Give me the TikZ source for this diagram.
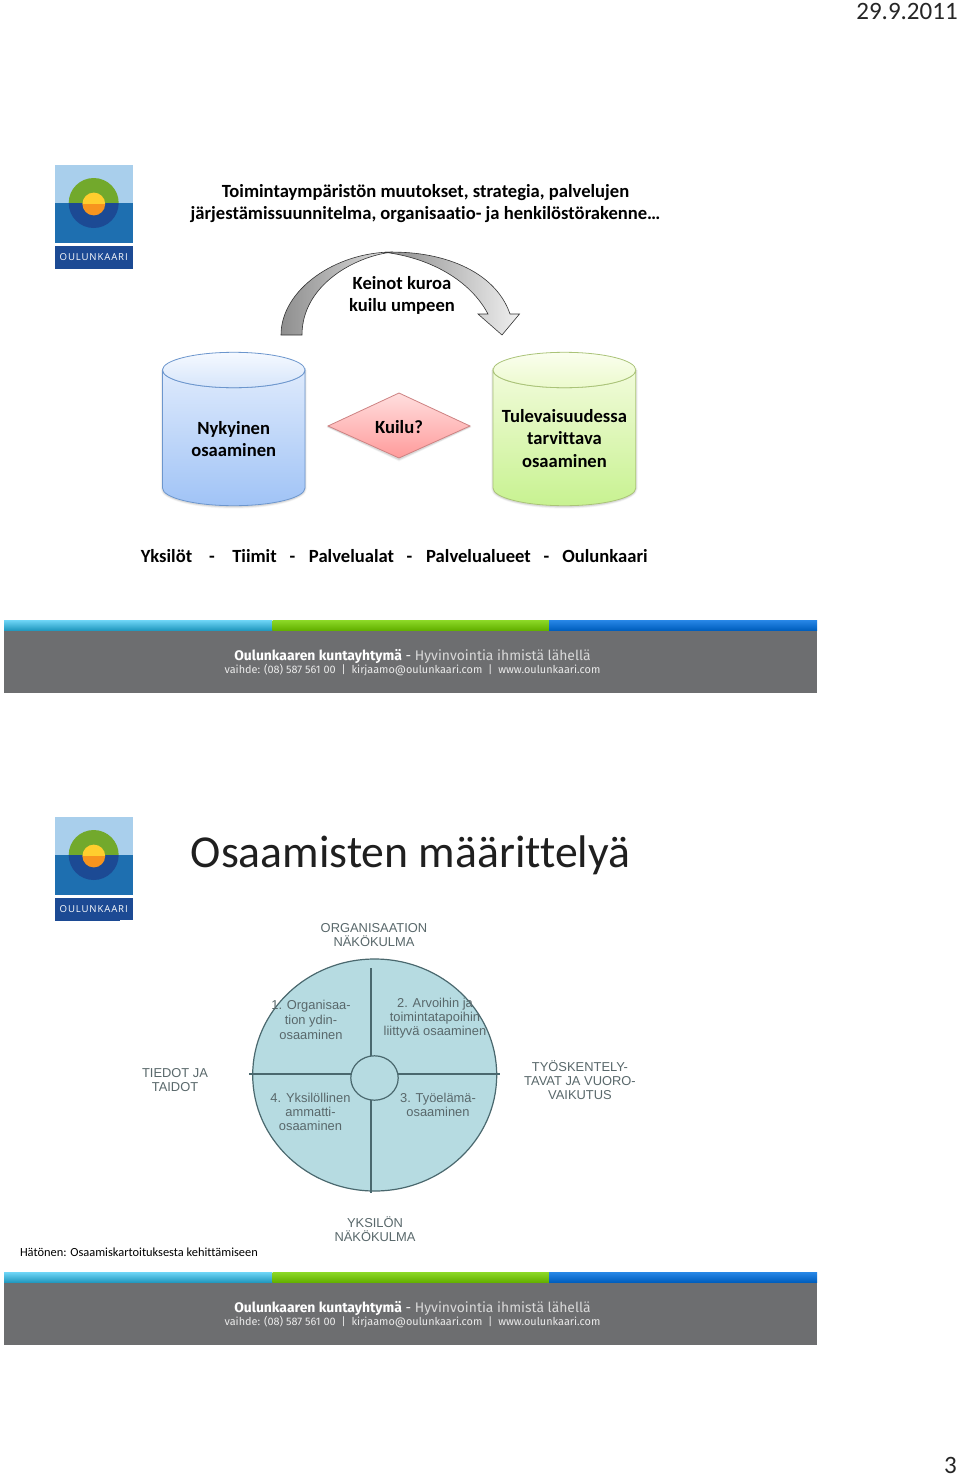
\documentclass[tikz,border=0pt]{standalone}
\usepackage{fontspec}
\setmainfont{Carlito}[Ligatures=NoCommon]
\newfontfamily\imgf{Liberation Sans}
\newfontfamily\footf{Fira Sans}
\newfontfamily\logof[LetterSpace=9]{Open Sans}
\definecolor{lsky}{HTML}{A9CFEC}
\definecolor{lmid}{HTML}{1E6FB0}
\definecolor{lnavy}{HTML}{1C4A94}
\definecolor{lgreen}{HTML}{72A92C}
\definecolor{lyel}{HTML}{FFCE2E}
\definecolor{lora}{HTML}{F7941E}
\definecolor{fgray}{HTML}{6D6E70}
\definecolor{fcyan}{HTML}{2CC0F0}
\definecolor{fgreen}{HTML}{76D000}
\definecolor{fblue}{HTML}{0070E0}
\definecolor{wheel}{HTML}{B6DBE1}
\definecolor{wheeld}{HTML}{4A686E}
\definecolor{imgtxt}{HTML}{59686B}
\tikzset{
  x=1pt,y=-1pt,
  every node/.style={inner sep=0pt,outer sep=0pt,align=center},
  txtb/.style={font=\fontsize{18.6}{22}\selectfont\bfseries,text=black},
  rowt/.style={txtb,anchor=base},
  imgl/.style={font=\imgf\fontsize{12.9}{14}\selectfont,text=imgtxt},
  wline/.style={draw=wheeld,line width=1.1pt},
  pics/logo/.style={code={
    \fill[lsky] (54.5,165) rectangle (132.5,203);
    \fill[lmid] (54.5,203) rectangle (132.5,243);
    \fill[lnavy] (54.5,246) rectangle (132.5,268.5);
    \fill[lgreen] (68.7,203) arc[start angle=180,end angle=360,radius=25] -- cycle;
    \fill[lnavy] (68.7,203) arc[start angle=180,end angle=0,radius=25] -- cycle;
    \fill[lyel] (82.4,204) arc[start angle=180,end angle=360,radius=11.4] -- cycle;
    \fill[lora] (82.4,204) arc[start angle=180,end angle=0,radius=11.4] -- cycle;
    \node[font=\logof\fontsize{9.6}{10}\selectfont,text=white] (name) at (93.7,257.2) {OULUNKAARI};
  }},
  pics/foot/.style={code={
    \fill[fgray] (4,630) rectangle (817,692.5);
    \shade[top color=fcyan!70!white,bottom color=fcyan!80!black] (4,620.5) rectangle (272,630);
    \shade[top color=fgreen!85!white,bottom color=fgreen!85!black] (272.5,620.5) rectangle (549,630);
    \shade[top color=fblue!85!white,bottom color=fblue!85!black] (549,620.5) rectangle (817,630);
    \node[font=\footf\fontsize{13.9}{15}\selectfont,text=white] (slogan) at (412.5,656) {\textbf{Oulunkaaren kuntayhtymä} - {\color{white!85!black}Hyvinvointia ihmistä lähellä}};
    \node[font=\footf\fontsize{10.9}{12}\selectfont,text=white!92!black] (contact) at (412.5,670.5) {vaihde: (08) 587 561 00\ \ |\ \ kirjaamo@oulunkaari.com\ \ |\ \ www.oulunkaari.com};
  }}
}
\begin{document}
\begin{tikzpicture}
\useasboundingbox (0,0) rectangle (960,1475);
\fill[white] (0,0) rectangle (960,1475);
\node[font=\fontsize{25}{27}\selectfont,text=black!85] (date) at (907,11.5) {29.9.2011};
\node[font=\fontsize{25}{27}\selectfont,text=black!85] (page) at (950.5,1465) {3};

\pic (logoA) at (0,0) {logo};
\pic (logoB) at (0,652) {logo};
\fill[white] (120,919.5) rectangle (133,922);

\node[txtb] (head) at (425.5,203.5) {Toimintaympäristön muutokset, strategia, palvelujen\\järjestämissuunnitelma, organisaatio- ja henkilöstörakenne…};

% curved arrow
\shade[left color=black!44,right color=black!12,draw=black!80,line width=0.6pt]
  (281,335) .. controls (281,290) and (335,252) .. (393,252)
  .. controls (355,256) and (302,285) .. (302,335) -- cycle;
\shade[left color=black!45,right color=black!6,draw=black!80,line width=0.6pt]
  (385,252.3) .. controls (440,250) and (495,270) .. (510,314)
  -- (519.5,314) -- (502,335) -- (478,314) -- (488,314)
  .. controls (470,280) and (430,258) .. (385,252.3) -- cycle;
\node[txtb] (arrowtxt) at (402,295) {Keinot kuroa\\kuilu umpeen};

% soft shadows
\foreach \g/\o in {2/0.03,1.2/0.05,0.5/0.07}{
  \fill[black,opacity=\o] (162.5-\g,370) -- (162.5-\g,489) arc[start angle=180,end angle=0,x radius=71.25+\g,y radius=17.7+\g] -- (305+\g,370) -- cycle;
  \fill[black,opacity=\o] (493-\g,370) -- (493-\g,489) arc[start angle=180,end angle=0,x radius=71.4+\g,y radius=17.7+\g] -- (635.8+\g,370) -- cycle;
  \fill[black,opacity=\o] (328-\g,427) -- (399,395-\g) -- (470+\g,427) -- (399,459.5+\g) -- cycle;
}

% left cylinder
\shade[top color={rgb,255:red,222;green,234;blue,252},bottom color={rgb,255:red,160;green,195;blue,246},draw={rgb,255:red,108;green,150;blue,205},line width=0.8pt]
  (162.5,370) -- (162.5,488) arc[start angle=180,end angle=0,x radius=71.25,y radius=17.7] -- (305,370)
  arc[start angle=0,end angle=180,x radius=71.25,y radius=17.7] -- cycle;
\shade[top color={rgb,255:red,245;green,249;blue,255},bottom color={rgb,255:red,214;green,229;blue,250},draw={rgb,255:red,108;green,150;blue,205},line width=0.8pt]
  (233.75,370) ellipse [x radius=71.25,y radius=17.7];
\node[txtb] (cylA) at (233.7,439.5) {Nykyinen\\osaaminen};

% diamond
\shade[top color={rgb,255:red,255;green,222;blue,222},bottom color={rgb,255:red,255;green,155;blue,155},draw={rgb,255:red,205;green,130;blue,130},line width=0.8pt]
  (328,426) -- (399,393) -- (470,426) -- (399,458) -- cycle;
\node[txtb] (gap) at (399,427.3) {Kuilu?};

% right cylinder
\shade[top color={rgb,255:red,241;green,251;blue,218},bottom color={rgb,255:red,200;green,242;blue,145},draw={rgb,255:red,170;green,195;blue,120},line width=0.8pt]
  (493,370) -- (493,488) arc[start angle=180,end angle=0,x radius=71.4,y radius=17.7] -- (635.8,370)
  arc[start angle=0,end angle=180,x radius=71.4,y radius=17.7] -- cycle;
\shade[top color={rgb,255:red,250;green,254;blue,238},bottom color={rgb,255:red,236;green,250;blue,205},draw={rgb,255:red,170;green,195;blue,120},line width=0.8pt]
  (564.4,370) ellipse [x radius=71.4,y radius=17.7];
\node[txtb,font=\fontsize{18.6}{22.5}\selectfont\bfseries] (cylB) at (564.4,438.3) {Tulevaisuudessa\\tarvittava\\osaaminen};

% row
\node[rowt] (r1) at (166.5,562) {Yksilöt};
\node[rowt] (d1) at (212,562) {-};
\node[rowt] (r2) at (254.5,562) {Tiimit};
\node[rowt] (d2) at (292.5,562) {-};
\node[rowt] (r3) at (351.5,562) {Palvelualat};
\node[rowt] (d3) at (409.5,562) {-};
\node[rowt] (r4) at (478.5,562) {Palvelualueet};
\node[rowt] (d4) at (546.5,562) {-};
\node[rowt] (r5) at (605,562) {Oulunkaari};

\pic (footA) at (0,0) {foot};
\pic (footB) at (0,652) {foot};

\node[font=\fontsize{45.7}{50}\selectfont,text=black!88] (title) at (410.5,855.5) {Osaamisten määrittelyä};

% wheel
\filldraw[fill=wheel,draw=wheeld,line width=1.2pt] (374.7,1075) ellipse [x radius=122,y radius=116];
\draw[wline] (249,1074) -- (351,1074);
\draw[wline] (398,1074) -- (500,1074);
\draw[wline] (371,968) -- (371,1056);
\draw[wline] (371,1100) -- (371,1192.7);
\draw[wheeld,line width=1.2pt] (374.5,1078) ellipse [x radius=23.7,y radius=22.2];

\node[imgl] (o) at (374,935) {ORGANISAATION\\NÄKÖKULMA};
\node[imgl] (t) at (175,1080) {TIEDOT JA\\TAIDOT};
\node[imgl] (w) at (580,1080) {TYÖSKENTELY-\\TAVAT JA VUORO-\\VAIKUTUS};
\node[imgl] (y) at (375,1229) {YKSILÖN\\NÄKÖKULMA};
\node[imgl,font=\imgf\fontsize{12.9}{15}\selectfont] (q1) at (311,1020) {1. Organisaa-\\tion ydin-\\osaaminen};
\node[imgl] (q2) at (435,1018) {2. Arvoihin ja\\toimintatapoihin\\liittyvä osaaminen};
\node[imgl] (q3) at (438,1104.5) {3. Työelämä-\\osaaminen};
\node[imgl] (q4) at (310.5,1111.5) {4. Yksilöllinen\\ammatti-\\osaaminen};

\node[font=\fontsize{12.4}{15}\selectfont,text=black,anchor=west] (cite) at (20,1252) {Hätönen: Osaamiskartoituksesta kehittämiseen};
\end{tikzpicture}
\end{document}
